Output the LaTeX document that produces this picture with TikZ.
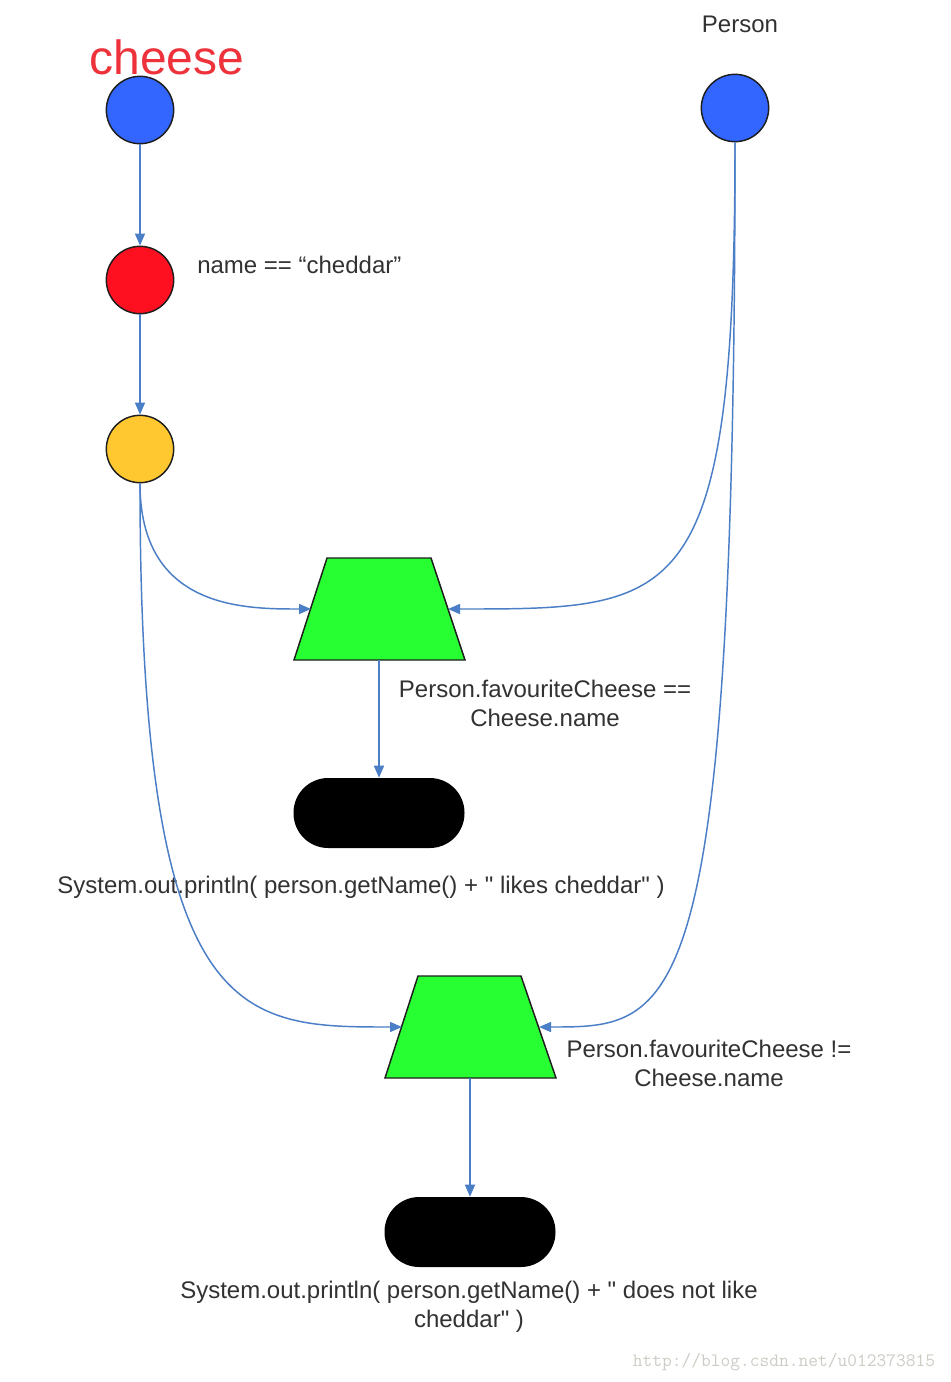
\documentclass[tikz,border=0pt]{standalone}
\usepackage{fontspec}
\setmainfont{Liberation Sans}[Ligatures=TeXOff]
\usetikzlibrary{shapes.geometric,arrows.meta}
\definecolor{lnblue}{RGB}{74,126,198}
\definecolor{cblue}{RGB}{51,102,255}
\definecolor{cred}{RGB}{255,16,32}
\definecolor{cyellow}{RGB}{255,200,48}
\definecolor{cgreen}{RGB}{40,255,50}
\definecolor{edgegray}{RGB}{30,30,30}
\definecolor{txt}{RGB}{50,50,50}
\definecolor{cheesered}{RGB}{238,50,60}
\definecolor{wm}{RGB}{205,205,198}
\begin{document}
\begin{tikzpicture}[x=0.75pt,y=-0.75pt,
  ball/.style={circle,draw=edgegray,line width=1.1pt,minimum size=50.5pt,inner sep=0pt},
  trapbox/.style={draw=edgegray,line width=1.1pt,fill=cgreen,line join=miter},
  pill/.style={rectangle,fill=black,rounded corners=26pt,minimum width=128.25pt,
    minimum height=52.5pt,inner sep=0pt},
  conn/.style={draw=lnblue,line width=1.1pt,-{Triangle[length=9pt,width=7.5pt]}},
  lbl/.style={font=\fontsize{18pt}{21.75pt}\selectfont,text=txt,align=center,inner sep=0pt}]
\useasboundingbox[fill=white] (0,0) rectangle (950,1382);

% nodes
\node[ball,fill=cblue] (cheese) at (140,110) {};
\node[ball,fill=cred] (red) at (140,280) {};
\node[ball,fill=cyellow] (yellow) at (140,449) {};
\node[ball,fill=cblue] (person) at (735,108) {};
\draw[trapbox] (294,660) -- (327,558) -- (431,558) -- (465,660) -- cycle;
\coordinate (t1l) at (311,609);
\coordinate (t1r) at (448,609);
\coordinate (t1b) at (379,660);
\draw[trapbox] (385,1078) -- (418,976) -- (521,976) -- (556,1078) -- cycle;
\coordinate (t2l) at (402,1027);
\coordinate (t2r) at (539,1027);
\coordinate (t2b) at (470,1078);
\node[pill] (p1) at (379,813) {};
\node[pill] (p2) at (470,1232) {};

% labels
\node[font=\fontsize{36pt}{40pt}\selectfont,text=cheesered,inner sep=0pt] (lcheese) at (167,57) {cheese};
\node[lbl] (lperson) at (740,24) {Person};
\node[lbl,anchor=west] (lname) at (197,265) {name == “cheddar”};
\node[lbl] (lt1) at (545,703) {Person.favouriteCheese ==\\Cheese.name};
\node[lbl] (lp1) at (361,887) {System.out.println( person.getName() + " likes cheddar" )};
\node[lbl] (lt2) at (709,1063) {Person.favouriteCheese !=\\Cheese.name};
\node[lbl] (lp2) at (469,1307) {System.out.println( person.getName() + " does not like\\cheddar" )};
\node[font=\fontsize{14.2pt}{16pt}\selectfont\ttfamily,text=wm,inner sep=0pt] (wmark) at (784,1362) {http://blog.csdn.net/u012373815};

% connectors
\draw[conn] (cheese.south) -- (red.north);
\draw[conn] (red.south) -- (yellow.north);
\draw[conn] (yellow.south) .. controls (140,609) and (244,609) .. (t1l);
\draw[conn] (person.south) .. controls (735,609) and (680,609) .. (t1r);
\draw[conn] (yellow.south) .. controls (140,1027) and (240,1027) .. (t2l);
\draw[conn] (person.south) .. controls (735,1027) and (675,1027) .. (t2r);
\draw[conn] (t1b) -- (p1.north);
\draw[conn] (t2b) -- (p2.north);
\end{tikzpicture}
\end{document}
